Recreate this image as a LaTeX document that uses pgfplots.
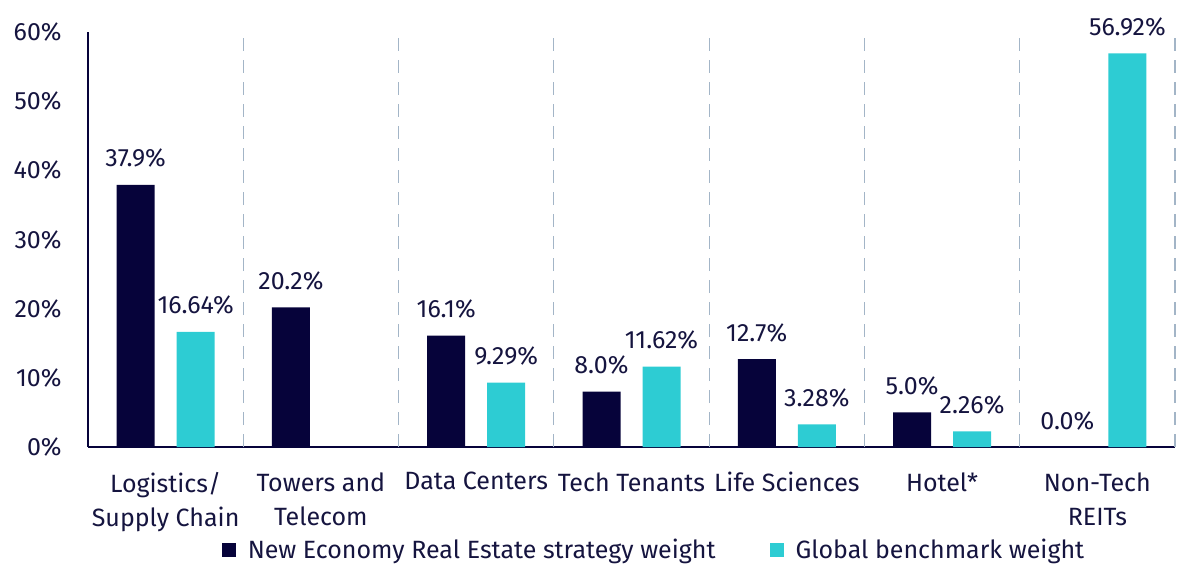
\documentclass[border=0pt]{standalone}
\usepackage{pgfplots}
\pgfplotsset{compat=1.18}
\usepackage{fontspec}
\setmainfont{Fira Sans}
\definecolor{navy}{HTML}{06033A}
\definecolor{cyanbar}{HTML}{2DCCD3}
\definecolor{txt}{HTML}{15143F}
\definecolor{gridc}{HTML}{A3B5C7}
\begin{document}
\begin{tikzpicture}[font=\fontsize{12.5}{17}\selectfont, text=txt]
\useasboundingbox (0,0) rectangle (600pt,289.5pt);
\begin{axis}[
  at={(44pt,66pt)}, anchor=south west,
  scale only axis, width=543.5pt, height=207.5pt,
  /pgf/number format/assume math mode=true,
  ybar=11pt, bar width=19pt,
  ymin=0, ymax=60, xmin=-0.5, xmax=6.5,
  axis x line=bottom, axis y line=left,
  axis line style={draw=navy, line width=0.9pt, -},
  major tick length=0pt, tick style={draw=none},
  ytick={0,10,...,60},
  yticklabel={\pgfmathprintnumber{\tick}\%},
  yticklabel style={inner sep=0pt, xshift=-13pt, text=txt},
  xtick={0,...,6},
  xticklabels={{Logistics/\\Supply Chain},{Towers and\\Telecom},{Data Centers},{Tech Tenants},{Life Sciences},{Hotel*},{Non-Tech\\REITs}},
  xticklabel style={align=center, inner sep=0pt, yshift=-12.5pt, text=txt},
  extra x ticks={0.5,1.5,2.5,3.5,4.5,5.5,6.5},
  extra x tick labels={},
  extra x tick style={grid=major, major grid style={draw=gridc, dash pattern=on 6.5pt off 4.5pt, line width=0.6pt}},
  nodes near coords style={anchor=base, yshift=9pt, inner sep=0pt, text=txt},
  legend style={at={(0.5216,-0.248)}, anchor=center, draw=none, fill=none, legend columns=2,
    /tikz/every even column/.append style={column sep=25pt},
    nodes={inner sep=2pt, text=txt}},
  legend image code/.code={\fill[#1] (0pt,-3.5pt) rectangle (7pt,3.5pt); \path (11pt,0pt);},
]
\addplot[fill=navy, draw=none,
  nodes near coords={\pgfmathprintnumber[fixed,fixed zerofill,precision=1]{\pgfplotspointmeta}\%}]
  coordinates {(0,37.9) (1,20.2) (2,16.1) (3,8.0) (4,12.7) (5,5.0) (6,0.0)};
\addlegendentry{New Economy Real Estate strategy weight}
\addplot[fill=cyanbar, draw=none,
  nodes near coords={\pgfmathprintnumber[fixed,fixed zerofill,precision=2]{\pgfplotspointmeta}\%}]
  coordinates {(0,16.64) (2,9.29) (3,11.62) (4,3.28) (5,2.26) (6,56.92)};
\addlegendentry{Global benchmark weight}
\end{axis}
\end{tikzpicture}
\end{document}
